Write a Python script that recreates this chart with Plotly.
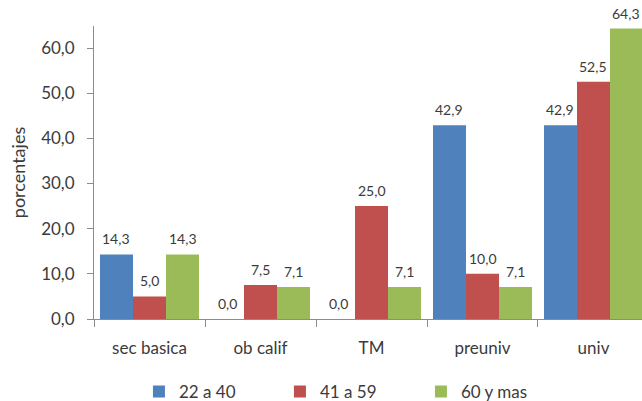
import plotly.graph_objects as go

# Education level by age group (percent)
categories = ["sec basica", "ob calif", "TM", "preuniv", "univ"]
series_names = ["22 a 40", "41 a 59", "60 y mas"]
values_22_40 = [14.3, 0.0, 0.0, 42.9, 42.9]
values_41_59 = [5.0, 7.5, 25.0, 10.0, 52.5]
values_60_mas = [14.3, 7.1, 7.1, 7.1, 64.3]
y_ticks = [0, 10, 20, 30, 40, 50, 60]

colors = ["#4F81BD", "#C0504D", "#9BBB59"]
text_color = "#3b3b3b"
axis_color = "#8c8c8c"
font_family = "Lato, 'Open Sans', sans-serif"

# plot geometry
fig_w, fig_h = 642, 401
m_l, m_r, m_t, m_b = 94, 0, 26, 82
x_range = [-0.5, 4.437]
bar_gap = 0.108
all_series = [values_22_40, values_41_59, values_60_mas]

fig = go.Figure()
for name, vals, col in zip(series_names, all_series, colors):
    fig.add_trace(go.Bar(
        name=name,
        x=categories,
        y=vals,
        marker=dict(color=col, line=dict(width=0)),
    ))

# value labels above each bar, shifted sideways to sit over their bar in the group
px_per_cat = (fig_w - m_l - m_r) / (x_range[1] - x_range[0])
bar_px = px_per_cat * (1 - bar_gap) / len(all_series)
for i, vals in enumerate(all_series):
    shift = (i - (len(all_series) - 1) / 2) * bar_px
    for cat, v in zip(categories, vals):
        fig.add_annotation(
            x=cat, y=v, xref="x", yref="y",
            text=f"{v:.1f}".replace(".", ","),
            showarrow=False,
            xanchor="center", yanchor="bottom",
            xshift=shift, yshift=5,
            font=dict(size=14, color=text_color, family=font_family),
        )

fig.update_layout(
    width=fig_w,
    height=fig_h,
    margin=dict(l=m_l, r=m_r, t=m_t, b=m_b, autoexpand=False),
    paper_bgcolor="white",
    plot_bgcolor="white",
    separators=",.",
    barmode="group",
    bargap=bar_gap,
    bargroupgap=0,
    font=dict(family=font_family, size=17, color=text_color),
    showlegend=True,
    legend=dict(
        orientation="h",
        x=0.082,
        xanchor="left",
        y=-0.249,
        yanchor="middle",
        font=dict(size=17, color=text_color),
        entrywidth=96,
        itemwidth=30,
    ),
    xaxis=dict(
        type="category",
        range=x_range,
        automargin=False,
        showline=True,
        linecolor=axis_color,
        linewidth=1,
        ticks="outside",
        tickson="boundaries",
        ticklen=7,
        tickcolor=axis_color,
        showgrid=False,
        ticklabelstandoff=14,
        tickfont=dict(size=17, color=text_color),
    ),
    yaxis=dict(
        range=[0, 64.87],
        tickvals=y_ticks,
        tickformat=".1f",
        automargin=False,
        showline=True,
        linecolor=axis_color,
        linewidth=1,
        ticks="outside",
        ticklen=6,
        tickcolor=axis_color,
        showgrid=False,
        zeroline=False,
        ticklabelstandoff=9,
        tickfont=dict(size=17, color=text_color),
        title=dict(text="porcentajes", font=dict(size=18, color=text_color), standoff=10),
    ),
)

fig.write_html("out.html")
